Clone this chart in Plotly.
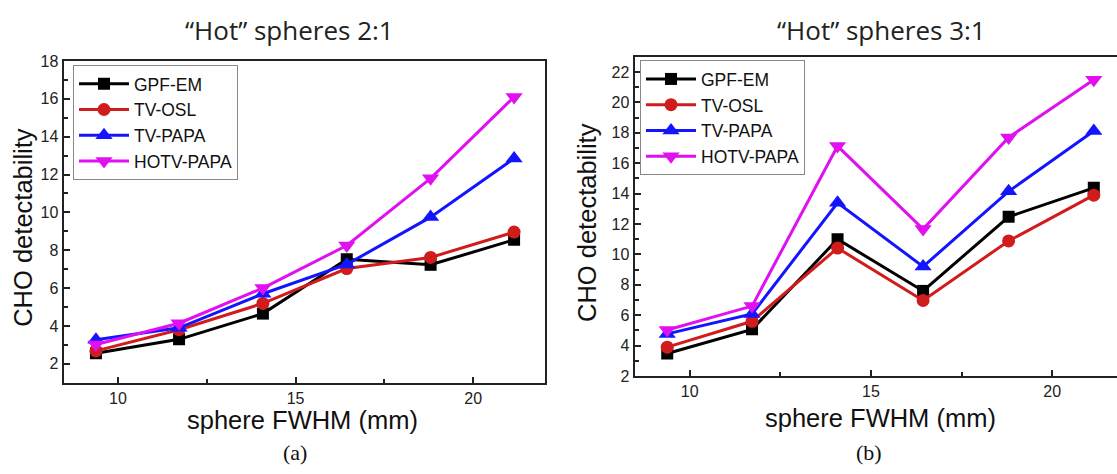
import plotly.graph_objects as go

W, H = 1117, 474

fwhm = [9.38, 11.72, 14.08, 16.44, 18.8, 21.15]
series_names = ["GPF-EM", "TV-OSL", "TV-PAPA", "HOTV-PAPA"]

# "Hot" spheres 2:1
a_gpf = [2.56, 3.29, 4.65, 7.52, 7.23, 8.55]
a_tvosl = [2.68, 3.80, 5.19, 7.03, 7.62, 8.96]
a_tvpapa = [3.27, 3.90, 5.70, 7.25, 9.75, 12.85]
a_hotv = [3.02, 4.14, 6.00, 8.25, 11.80, 16.10]

# "Hot" spheres 3:1
b_gpf = [3.48, 5.07, 11.00, 7.60, 12.48, 14.38]
b_tvosl = [3.90, 5.60, 10.42, 6.97, 10.89, 13.90]
b_tvpapa = [4.77, 6.08, 13.40, 9.20, 14.15, 18.12]
b_hotv = [5.03, 6.60, 17.13, 11.67, 17.70, 21.50]

colors = ["#000000", "#d01c1c", "#1414ff", "#e010f0"]
symbols = ["square", "circle", "triangle-up", "triangle-down"]
msizes = [12, 13, 15, 15]

fig = go.Figure()

for name, ys, c, s, ms in zip(series_names, [a_gpf, a_tvosl, a_tvpapa, a_hotv], colors, symbols, msizes):
    fig.add_trace(go.Scatter(x=fwhm, y=ys, name=name, mode="lines+markers",
                             line=dict(color=c, width=3),
                             marker=dict(symbol=s, size=ms, color=c),
                             xaxis="x", yaxis="y", legend="legend"))
for name, ys, c, s, ms in zip(series_names, [b_gpf, b_tvosl, b_tvpapa, b_hotv], colors, symbols, msizes):
    fig.add_trace(go.Scatter(x=fwhm, y=ys, name=name, mode="lines+markers",
                             line=dict(color=c, width=3),
                             marker=dict(symbol=s, size=ms, color=c),
                             xaxis="x2", yaxis="y2", legend="legend2"))

def px_x(p):
    return p / W

def px_y(p):
    return 1 - p / H

tickfont = dict(family="Liberation Sans, Arial", size=16, color="#222")
common = dict(showline=True, linewidth=2, linecolor="#222",
              ticks="inside", ticklen=6, tickwidth=1.5, tickcolor="#222",
              showgrid=False, zeroline=False, tickfont=tickfont)

legend_common = dict(xanchor="left", yanchor="top",
                     bgcolor="white", bordercolor="#888", borderwidth=1,
                     font=dict(family="Liberation Sans, Arial", size=17.5, color="#111"),
                     tracegroupgap=0, itemwidth=50)

fig.update_layout(
    width=W, height=H,
    margin=dict(l=0, r=0, t=0, b=0),
    plot_bgcolor="white", paper_bgcolor="white",
    xaxis=dict(domain=[px_x(63.6), px_x(545)], range=[8.47, 22.02], anchor="y",
               tick0=0, dtick=5, mirror=True,
               minor=dict(dtick=2.5, ticks="inside", ticklen=4, tickcolor="#222"),
               **common),
    yaxis=dict(domain=[px_y(389), px_y(55)], range=[0.98, 18.0], anchor="x",
               tick0=0, dtick=2, mirror=True,
               minor=dict(dtick=1, ticks="inside", ticklen=4, tickcolor="#222"),
               **common),
    xaxis2=dict(domain=[px_x(634.6), 1.0], range=[8.48, 21.79], anchor="y2",
                tick0=0, dtick=5, mirror=True,
                minor=dict(dtick=2.5, ticks="inside", ticklen=4, tickcolor="#222"),
                **common),
    yaxis2=dict(domain=[px_y(381.7), px_y(50.7)], range=[2.0, 23.0], anchor="x2",
                tick0=0, dtick=2, mirror=False,
                minor=dict(dtick=1, ticks="inside", ticklen=4, tickcolor="#222"),
                **common),
    legend=dict(x=px_x(73), y=px_y(59), **legend_common),
    legend2=dict(x=px_x(640), y=px_y(54), **legend_common),
)

ann_font = dict(family="Liberation Sans, Arial", size=25.5, color="#111")
title_font = dict(family="Open Sans, Lato", size=26, color="#222")
cap_font = dict(family="Liberation Serif, Times New Roman", size=22, color="#111")

annotations = [
    dict(text="\u201cHot\u201d spheres 2:1", x=px_x(289), y=px_y(23), font=title_font),
    dict(text="\u201cHot\u201d spheres 3:1", x=px_x(881), y=px_y(23), font=title_font),
    dict(text="sphere FWHM (mm)", x=px_x(303), y=px_y(427.5), font=ann_font),
    dict(text="sphere FWHM (mm)", x=px_x(880), y=px_y(425), font=ann_font),
    dict(text="CHO detectability", x=px_x(23), y=px_y(228), font=ann_font, textangle=-90),
    dict(text="CHO detectability", x=px_x(587), y=px_y(223), font=ann_font, textangle=-90),
    dict(text="(a)", x=px_x(295), y=px_y(461), font=cap_font),
    dict(text="(b)", x=px_x(869), y=px_y(461), font=cap_font),
]
for a in annotations:
    fig.add_annotation(xref="paper", yref="paper", showarrow=False,
                       xanchor="center", yanchor="middle", **a)

fig.write_html("out.html", config={"displayModeBar": False},
               post_script="document.body.style.margin='0';document.body.style.overflow='hidden';")
